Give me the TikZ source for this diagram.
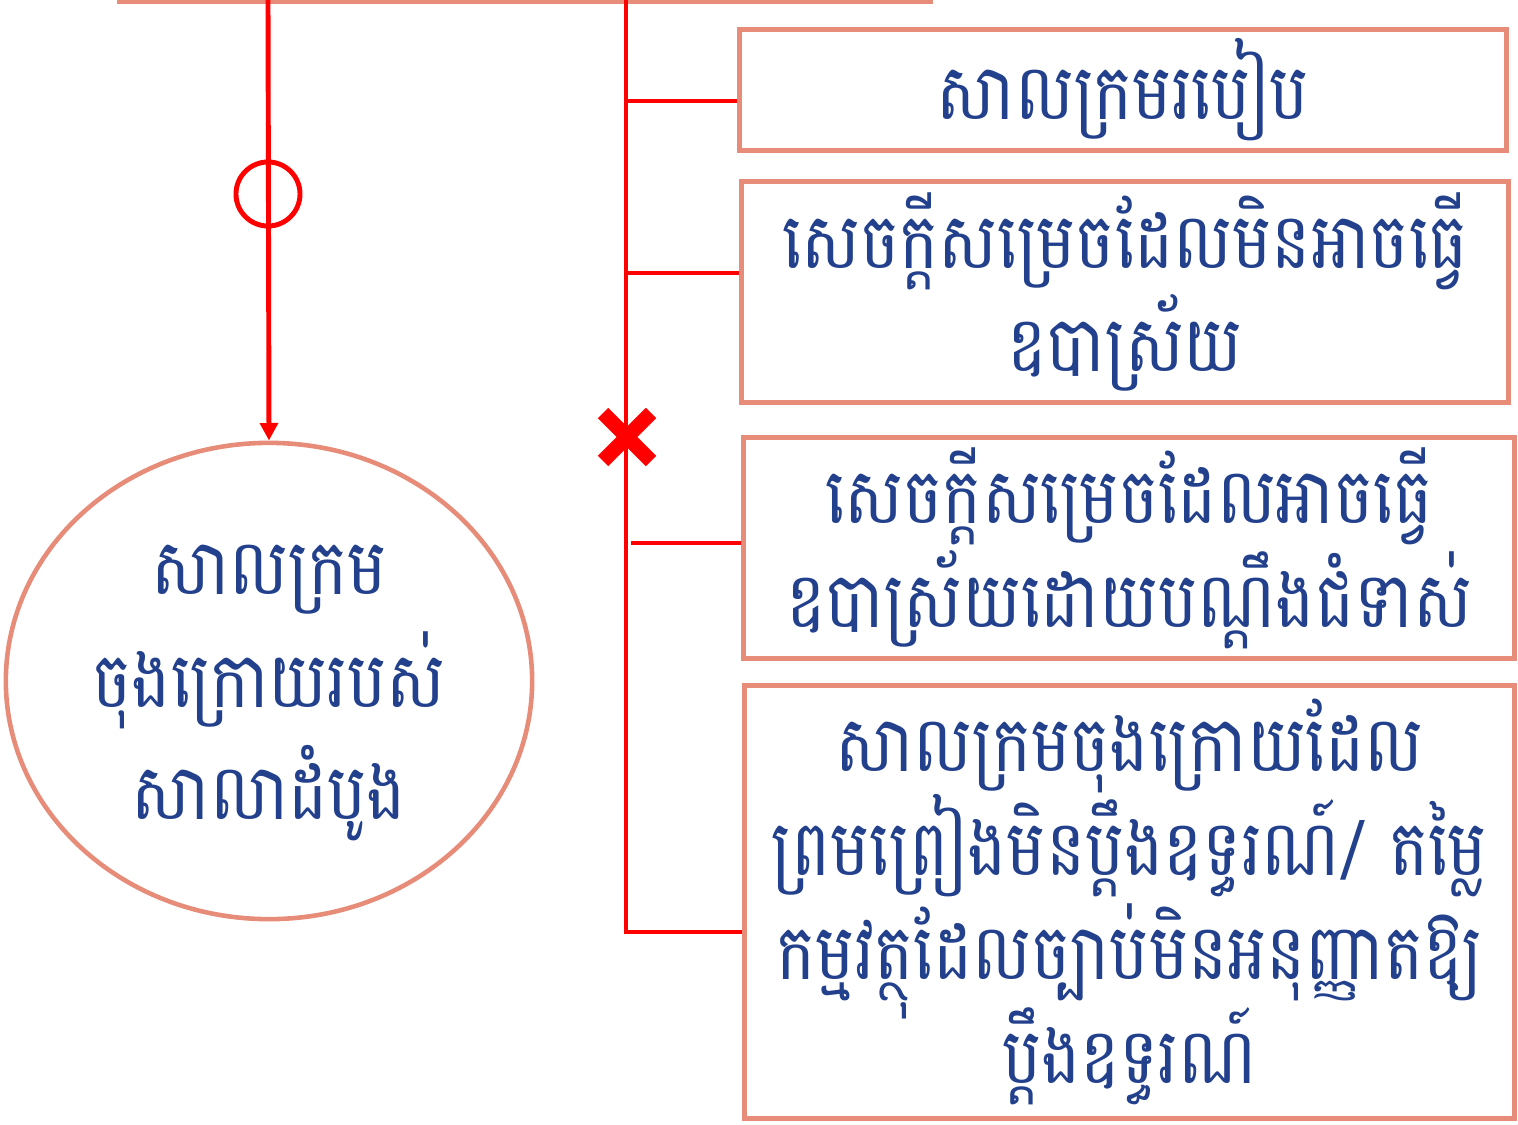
\documentclass[tikz,border=0pt]{standalone}
\usepackage{fontspec}
\usepackage{tikz}
\usetikzlibrary{positioning, arrows.meta, shapes.geometric}
\newfontfamily\khmerfont[Script=Khmer, FakeStretch=0.85]{Battambang}
\definecolor{boxline}{RGB}{230,140,120}
\definecolor{khtext}{RGB}{34,64,140}
\tikzset{CaseBox/.style={%
    shape=rectangle,%
    draw=boxline,%
    line width=1.4pt,%
    inner sep=0pt,%
    text=khtext,%
    font=\khmerfont\fontsize{22}{29.5}\selectfont,%
}}
\tikzset{CourtOval/.style={%
    shape=ellipse,%
    draw=boxline,%
    line width=1.3pt,%
    inner sep=0pt,%
    text=khtext,%
    font=\khmerfont\fontsize{22}{32}\selectfont,%
}}
\tikzset{BranchEdge/.style={%
    draw=red,%
    line width=1.4pt,%
}}
\tikzset{ArrowEdge/.style={%
    -{Triangle[width=5pt,length=5pt]},%
    draw=red,%
    line width=1.4pt,%
}}
\NewDocumentCommand{\caseText}{m m m}{%
    \parbox[c][#2][c]{#1}{\centering\lineskiplimit=-10cm #3}%
}

\begin{document}
\begin{tikzpicture}[x=0.01cm, y=-0.01cm]
    \useasboundingbox (0,0) rectangle (1518,1124);
    \node[CaseBox, minimum width=8.1cm, minimum height=1.2cm] (top) at (525,-58) {};
    \node[CourtOval, minimum width=5.26cm, minimum height=4.76cm] (oval) at (269,681)
        {\caseText{3.6cm}{3.3cm}{\vspace*{0.24cm}សាលក្រម\\ចុងក្រោយរបស់\\សាលាដំបូង}};
    \node[CaseBox] (b1) at (1123,90)
        {\caseText{7.66cm}{1.21cm}{សាលក្រមរបៀប}};
    \node[CaseBox] (b2) at (1125,292)
        {\caseText{7.66cm}{2.2cm}{សេចក្ដីសម្រេចដែលមិនអាចធ្វើ\\ឧបាស្រ័យ}};
    \node[CaseBox] (b3) at (1129,548)
        {\caseText{7.7cm}{2.2cm}{សេចក្ដីសម្រេចដែលអាចធ្វើ\\ឧបាស្រ័យដោយបណ្ដឹងជំទាស់}};
    \node[CaseBox] (b4) at (1129.5,902)
        {\caseText{7.69cm}{4.32cm}{សាលក្រមចុងក្រោយដែល\\ព្រមព្រៀងមិនប្ដឹងឧទ្ធរណ៍/ តម្លៃ\\កម្មវត្ថុដែលច្បាប់មិនអនុញ្ញាតឱ្យ\\ប្ដឹងឧទ្ធរណ៍}};

    \coordinate (s0) at (268,0);
    \coordinate (t0) at (626,0);
    \coordinate (j1) at (626,101);
    \coordinate (j2) at (626,273);
    \coordinate (j3) at (631,543);
    \coordinate (j4) at (626,932);

    \path (s0) edge[ArrowEdge] (oval.north);
    \node[circle, draw=red, line width=1.4pt, minimum size=0.64cm, inner sep=0pt] (ring) at (268,194) {};
    \draw[BranchEdge] (t0) -- (j4) -- (j4 -| b4.west);
    \path (j1) edge[BranchEdge] (j1 -| b1.west);
    \path (j2) edge[BranchEdge] (j2 -| b2.west);
    \path (j3) edge[BranchEdge] (j3 -| b3.west);
    \coordinate (cross) at (627,437);
    \draw[red, line width=4.2pt] ([shift={(-24,-24)}]cross) -- ([shift={(24,24)}]cross)
        ([shift={(-24,24)}]cross) -- ([shift={(24,-24)}]cross);
\end{tikzpicture}
\end{document}
